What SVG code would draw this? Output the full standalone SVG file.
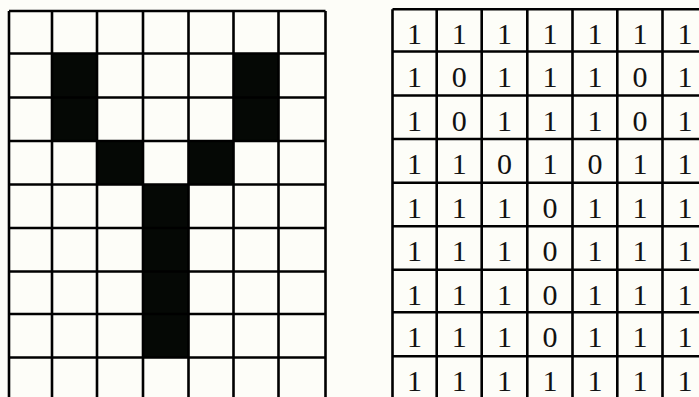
<svg xmlns="http://www.w3.org/2000/svg" width="699" height="397" viewBox="0 0 699 397">
<style>
.bg{fill:#fdfdf8}
.blk{fill:#050805}
.grid{fill:none;stroke:#000;stroke-width:2.6}
.d{font-family:"Liberation Serif","Times New Roman",serif;font-size:30px;fill:#111;text-anchor:middle}
</style>
<rect class="bg" x="0" y="0" width="699" height="397"/>
<g id="bitmap-grid">
<g id="black-cells">
<rect class="blk" x="52" y="53.5" width="45" height="88"/>
<rect class="blk" x="233.5" y="53.5" width="45" height="88"/>
<rect class="blk" x="97" y="141" width="46" height="43.5"/>
<rect class="blk" x="188.5" y="141" width="45" height="43.5"/>
<rect class="blk" x="143" y="184.5" width="45.5" height="173"/>
</g>
<path class="grid" d="M9 11V401M52 11V401M97 11V401M143 11V401M188.5 11V401M233.5 11V401M278.5 11V401M325.5 11V401
M9 11H325.5M9 53.5H325.5M9 97.5H325.5M9 141H325.5M9 184.5H325.5M9 228H325.5M9 271.5H325.5M9 314H325.5M9 357.5H325.5"/>
</g>
<g id="matrix-grid">
<path class="grid" d="M392.5 9.3V401M436.7 9.3V401M481.7 9.3V401M527.3 9.3V401M572.5 9.3V401M617.3 9.3V401M662.5 9.3V401M707.5 9.3V401
M392.5 9.3H708M392.5 51.5H708M392.5 95.5H708M392.5 139H708M392.5 182.7H708M392.5 226.2H708M392.5 269.7H708M392.5 312.3H708M392.5 356.3H708"/>
<g id="matrix-values">
<text class="d" x="414.6" y="44.3">1</text><text class="d" x="459.2" y="44.3">1</text><text class="d" x="504.5" y="44.3">1</text><text class="d" x="549.9" y="44.3">1</text><text class="d" x="594.9" y="44.3">1</text><text class="d" x="639.9" y="44.3">1</text><text class="d" x="685" y="44.3">1</text>
<text class="d" x="414.6" y="86.5">1</text><text class="d" x="459.2" y="86.5">0</text><text class="d" x="504.5" y="86.5">1</text><text class="d" x="549.9" y="86.5">1</text><text class="d" x="594.9" y="86.5">1</text><text class="d" x="639.9" y="86.5">0</text><text class="d" x="685" y="86.5">1</text>
<text class="d" x="414.6" y="130.5">1</text><text class="d" x="459.2" y="130.5">0</text><text class="d" x="504.5" y="130.5">1</text><text class="d" x="549.9" y="130.5">1</text><text class="d" x="594.9" y="130.5">1</text><text class="d" x="639.9" y="130.5">0</text><text class="d" x="685" y="130.5">1</text>
<text class="d" x="414.6" y="174">1</text><text class="d" x="459.2" y="174">1</text><text class="d" x="504.5" y="174">0</text><text class="d" x="549.9" y="174">1</text><text class="d" x="594.9" y="174">0</text><text class="d" x="639.9" y="174">1</text><text class="d" x="685" y="174">1</text>
<text class="d" x="414.6" y="217.7">1</text><text class="d" x="459.2" y="217.7">1</text><text class="d" x="504.5" y="217.7">1</text><text class="d" x="549.9" y="217.7">0</text><text class="d" x="594.9" y="217.7">1</text><text class="d" x="639.9" y="217.7">1</text><text class="d" x="685" y="217.7">1</text>
<text class="d" x="414.6" y="261.2">1</text><text class="d" x="459.2" y="261.2">1</text><text class="d" x="504.5" y="261.2">1</text><text class="d" x="549.9" y="261.2">0</text><text class="d" x="594.9" y="261.2">1</text><text class="d" x="639.9" y="261.2">1</text><text class="d" x="685" y="261.2">1</text>
<text class="d" x="414.6" y="304.7">1</text><text class="d" x="459.2" y="304.7">1</text><text class="d" x="504.5" y="304.7">1</text><text class="d" x="549.9" y="304.7">0</text><text class="d" x="594.9" y="304.7">1</text><text class="d" x="639.9" y="304.7">1</text><text class="d" x="685" y="304.7">1</text>
<text class="d" x="414.6" y="347.3">1</text><text class="d" x="459.2" y="347.3">1</text><text class="d" x="504.5" y="347.3">1</text><text class="d" x="549.9" y="347.3">0</text><text class="d" x="594.9" y="347.3">1</text><text class="d" x="639.9" y="347.3">1</text><text class="d" x="685" y="347.3">1</text>
<text class="d" x="414.6" y="391.3">1</text><text class="d" x="459.2" y="391.3">1</text><text class="d" x="504.5" y="391.3">1</text><text class="d" x="549.9" y="391.3">1</text><text class="d" x="594.9" y="391.3">1</text><text class="d" x="639.9" y="391.3">1</text><text class="d" x="685" y="391.3">1</text>
</g>
</g>
</svg>
